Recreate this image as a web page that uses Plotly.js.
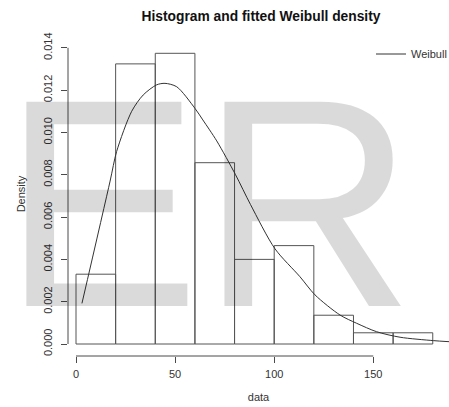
<!DOCTYPE html>
<html>
<head>
<meta charset="utf-8">
<script src="https://cdn.plot.ly/plotly-3.0.1.min.js"></script>
<style>
  html, body { margin: 0; padding: 0; background: #ffffff; }
  #chart { width: 449px; height: 407px; }
</style>
</head>
<body>
<div id="chart"></div>
<script>
// ---- data ----
var binStarts = [0, 20, 40, 60, 80, 100, 120, 140, 160];
var binWidth = 20;
var densities = [0.0033, 0.01324, 0.01374, 0.00857, 0.0040, 0.00465, 0.00136, 0.00053, 0.00053];

var curveX = [3, 17.2, 20.5, 28.1, 33.9, 40.7, 44.9, 50.8, 60, 64, 71, 80.5, 88, 100.4, 113, 120.6, 133.2, 141.6, 151.7, 163.5, 180.3, 188.2];
var curveY = [0.00192, 0.0077, 0.0091, 0.01100, 0.01177, 0.01225, 0.01232, 0.01216, 0.01114, 0.01059, 0.0096, 0.0080, 0.0066, 0.0045, 0.00318, 0.00232, 0.00137, 0.00098, 0.00058, 0.00032, 0.00016, 0.00011];

var xTicks = [0, 50, 100, 150];
var yTicks = [0, 0.002, 0.004, 0.006, 0.008, 0.010, 0.012, 0.014];

var titleText = "Histogram and fitted Weibull density";
var xLabel = "data";
var yLabel = "Density";
var seriesName = "Weibull";
var watermark = "ER";

// ---- build ----
var barCenters = binStarts.map(function (s) { return s + binWidth / 2; });

var lineCol = "#4a4a4a";
var textCol = "#333333";
var FONT = "Liberation Sans, Arial, sans-serif";

var traces = [
  {
    type: "bar",
    x: barCenters,
    y: densities,
    width: binWidth,
    marker: { color: "rgba(255,255,255,0)", line: { color: "#555555", width: 1 } },
    showlegend: false,
    hoverinfo: "skip"
  },
  {
    type: "scatter",
    mode: "lines",
    x: curveX,
    y: curveY,
    name: seriesName,
    line: { color: "#333333", width: 1, shape: "spline", smoothing: 0.8 },
    showlegend: true,
    cliponaxis: true
  }
];

var layout = {
  width: 449,
  height: 407,
  margin: { l: 68, r: 0, t: 32, b: 51, autoexpand: false },
  paper_bgcolor: "#ffffff",
  plot_bgcolor: "#ffffff",
  font: { family: FONT, color: textCol, size: 11 },
  bargap: 0,
  title: {
    text: titleText,
    font: { family: FONT, size: 13.8, weight: "bold", color: "#111111" },
    x: (261 - 68) / 381, xref: "paper", xanchor: "center",
    y: 1 - 16 / 407, yref: "container", yanchor: "middle"
  },
  xaxis: {
    range: [-4.04, 188.2],
    tickvals: xTicks,
    ticktext: xTicks.map(String),
    ticks: "outside", ticklen: 6, tickcolor: lineCol, tickwidth: 1,
    showline: false, showgrid: false, zeroline: false,
    tickfont: { family: FONT, size: 11, color: textCol },
    ticklabelstandoff: 2,
    title: { text: xLabel, font: { family: FONT, size: 11, color: textCol }, standoff: 14 },
    automargin: false
  },
  yaxis: {
    range: [-0.000567, 0.014747],
    tickvals: yTicks,
    ticktext: yTicks.map(function (v) { return v.toFixed(3); }),
    tickangle: -90,
    ticks: "outside", ticklen: 6, tickcolor: lineCol, tickwidth: 1,
    showline: false, showgrid: false, zeroline: false,
    tickfont: { family: FONT, size: 11, color: textCol },
    ticklabelstandoff: 5,
    title: { text: yLabel, font: { family: FONT, size: 11, color: textCol }, standoff: 13 },
    automargin: false
  },
  legend: {
    x: (371 - 68) / 381, y: (356 - 54) / 324,
    xanchor: "left", yanchor: "middle",
    bgcolor: "rgba(0,0,0,0)", borderwidth: 0,
    font: { family: FONT, size: 11, color: textCol }
  },
  shapes: [
    { type: "line", xref: "paper", yref: "y", x0: 0, x1: 0,
      y0: yTicks[0], y1: yTicks[yTicks.length - 1], line: { color: lineCol, width: 1 } },
    { type: "line", xref: "x", yref: "paper", y0: 0, y1: 0,
      x0: xTicks[0], x1: xTicks[xTicks.length - 1], line: { color: lineCol, width: 1 } }
  ],
  annotations: [
    {
      text: watermark,
      xref: "paper", yref: "paper",
      x: (208.6 - 68) / 381, y: (356 - 203) / 324,
      xanchor: "center", yanchor: "middle",
      showarrow: false,
      font: { family: FONT, size: 297, color: "rgba(0,0,0,0.145)" }
    }
  ]
};

Plotly.newPlot("chart", traces, layout, { displayModeBar: false, staticPlot: true });
</script>
</body>
</html>
